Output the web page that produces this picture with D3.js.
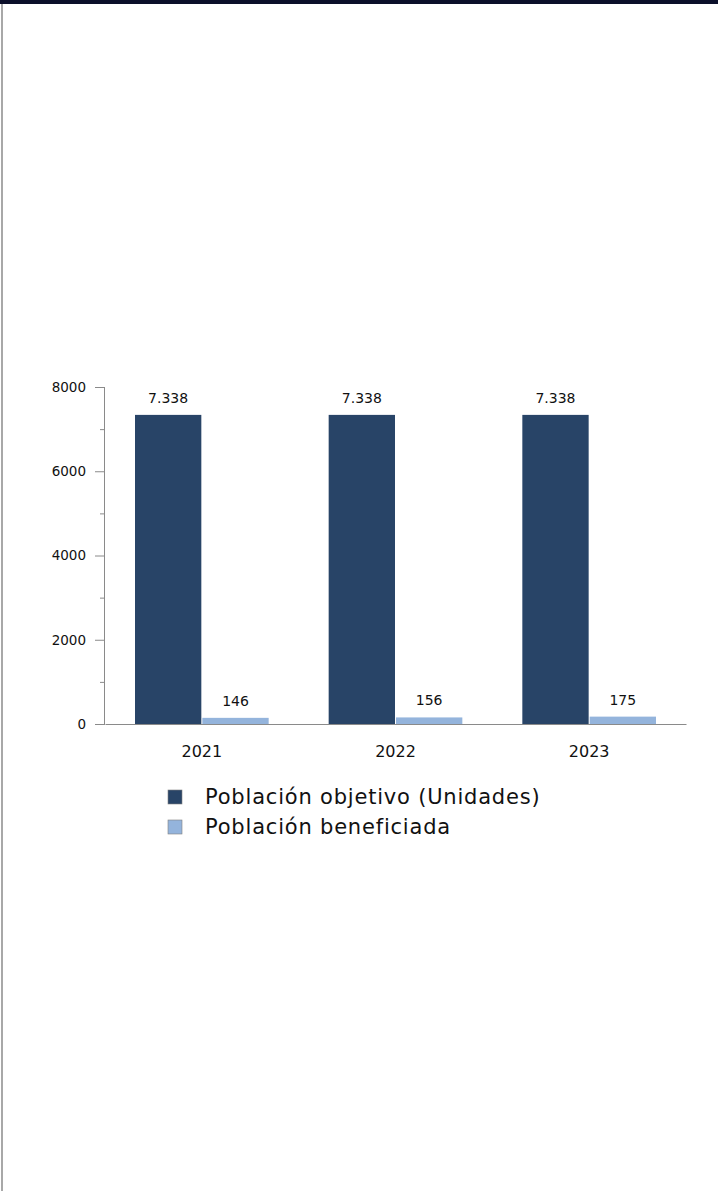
<!DOCTYPE html>
<html><head><meta charset="utf-8">
<script src="https://cdn.jsdelivr.net/npm/d3@7"></script>
<style>
html,body{margin:0;padding:0;background:#fff;}
svg{display:block;}
</style></head>
<body>
<svg id="c" width="718" height="1191"></svg>
<script>
const categories = ["2021", "2022", "2023"];
const seriesNames = ["Población objetivo (Unidades)", "Población beneficiada"];
const objetivo = [7338, 7338, 7338];
const beneficiada = [146, 156, 175];
const valueLabelsObjetivo = ["7.338", "7.338", "7.338"];
const valueLabelsBeneficiada = ["146", "156", "175"];
const yTicks = [0, 2000, 4000, 6000, 8000];
const yMinorTicks = [1000, 3000, 5000, 7000];
const colors = ["#284467", "#94b4dc"];

const svg = d3.select("#c");
const font = "DejaVu Sans, sans-serif";

// frame
svg.append("rect").attr("x",0).attr("y",0).attr("width",718).attr("height",4).attr("fill","#0b0f2a");
svg.append("rect").attr("x",1).attr("y",4).attr("width",2).attr("height",1187).attr("fill","#a8a8a8");

const x0 = 105, x1 = 686, yTop = 387, yBot = 724;
const x = d3.scaleBand().domain(categories).range([x0, x1]).paddingInner(0).paddingOuter(0);
const y = d3.scaleLinear().domain([0, 8000]).range([yBot, yTop]);
const inner = d3.scaleBand().domain([0,1]).range([30, x.bandwidth()-30]).paddingInner(0.015);

// y axis
const yAxis = d3.axisLeft(y).tickValues(yTicks).tickSize(10).tickPadding(9).tickFormat(d3.format("d"));
const gy = svg.append("g").attr("transform", `translate(${x0},0)`).call(yAxis);
gy.select(".domain").attr("stroke","#8a8a8a").attr("d", `M-0.5,${yTop}V${yBot}`);
gy.selectAll(".tick line").attr("stroke","#8a8a8a");
gy.selectAll(".tick text").attr("font-family",font).attr("font-size","13.5px").attr("fill","#111");
const gyMinor = svg.append("g").attr("transform", `translate(${x0},0)`)
  .call(d3.axisLeft(y).tickValues(yMinorTicks).tickSize(5).tickFormat(""));
gyMinor.select(".domain").remove();
gyMinor.selectAll(".tick line").attr("stroke","#8a8a8a");

// x axis
const gx = svg.append("g").attr("transform", `translate(0,${yBot})`)
  .call(d3.axisBottom(x).tickSize(0).tickPadding(0));
gx.select(".domain").attr("stroke","#8a8a8a").attr("stroke-width",1.2);
gx.selectAll(".tick text").attr("font-family",font).attr("font-size","16px").attr("fill","#111")
  .attr("y", 33).attr("dy", 0);

const series = [objetivo, beneficiada];
const labels = [valueLabelsObjetivo, valueLabelsBeneficiada];
series.forEach((vals, si) => {
  const g = svg.append("g");
  g.selectAll("rect").data(vals).join("rect")
    .attr("x", (d,i) => x(categories[i]) + inner(si))
    .attr("y", d => y(d))
    .attr("width", inner.bandwidth())
    .attr("height", d => yBot - y(d))
    .attr("fill", colors[si]);
  g.selectAll("text").data(vals).join("text")
    .attr("x", (d,i) => x(categories[i]) + inner(si) + inner.bandwidth()/2)
    .attr("y", d => y(d) - 12)
    .attr("text-anchor","middle")
    .attr("font-family",font).attr("font-size","14px").attr("fill","#111")
    .text((d,i) => labels[si][i]);
});

// legend
const lg = svg.append("g").attr("transform","translate(168,790)");
seriesNames.forEach((n, i) => {
  lg.append("rect").attr("x",0).attr("y", i*30).attr("width",14).attr("height",14)
    .attr("fill", colors[i]).attr("stroke","#7f7f7f").attr("stroke-width",0.6);
  lg.append("text").attr("x",37).attr("y", i*30 + 14)
    .attr("font-family",font).attr("font-size","21px").attr("letter-spacing","0.8px")
    .attr("fill","#111").text(n);
});
</script>
</body></html>
